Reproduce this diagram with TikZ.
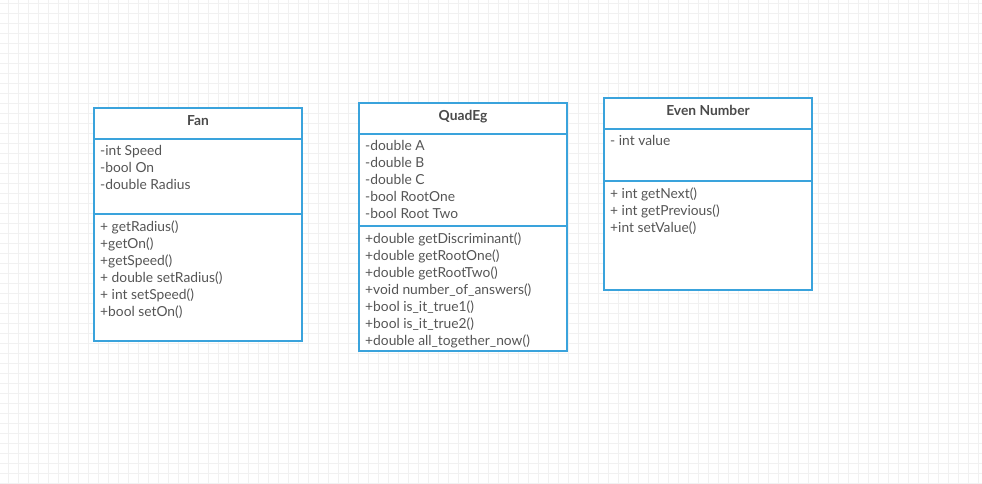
\documentclass[tikz,border=0pt]{standalone}
\usepackage{fontspec}
\setmainfont{Lato}
\usetikzlibrary{positioning}

\definecolor{umlblue}{HTML}{3AA3DC}
\definecolor{umltext}{HTML}{555555}
\definecolor{umltitle}{HTML}{4A4A4A}
\definecolor{gridgray}{HTML}{F1F1F1}

\begin{document}
\begin{tikzpicture}[x=1pt, y=-1pt,
    gridline/.style={gridgray, line width=0.7pt},
    classbox/.style={draw=umlblue, line width=2pt, fill=white, minimum width=208pt, inner sep=0pt, outer sep=0pt},
    classname/.style={classbox, minimum height=31pt, text=umltitle, text height=10pt, text depth=7pt, font=\bfseries\fontsize{13.8}{15}\selectfont},
    members/.style={anchor=north west, align=left, inner sep=0pt, text=umltext, font=\fontsize{13.8}{17}\selectfont}]

    % Canvas and background grid
    \useasboundingbox (0,0) rectangle (982,483);
    \fill[white] (0,0) rectangle (982,483);
    \foreach \x in {8,18,...,978}
        \draw[gridline] (\x,0) -- (\x,483);
    \foreach \y in {3,13,...,483}
        \draw[gridline] (0,\y) -- (982,\y);

    % Class Fan
    \node[classname] (fan) at (198,123.5) {Fan};
    \node[classbox, minimum height=75pt, below=0pt of fan] (fanattr) {};
    \node[classbox, minimum height=127pt, below=0pt of fanattr] (fanops) {};
    \node[members] (fanattrtext) at ([shift={(6,6.5)}]fanattr.north west)
        {-int Speed\\-bool On\\-double Radius};
    \node[members] (fanopstext) at ([shift={(6,6.5)}]fanops.north west)
        {+ getRadius()\\+getOn()\\+getSpeed()\\+ double setRadius()\\+ int setSpeed()\\+bool setOn()};

    % Class QuadEg
    \node[classname] (quad) at (463,118.5) {QuadEg};
    \node[classbox, minimum height=92pt, below=0pt of quad] (quadattr) {};
    \node[classbox, minimum height=125pt, below=0pt of quadattr] (quadops) {};
    \node[members] (quadattrtext) at ([shift={(6,6.5)}]quadattr.north west)
        {-double A\\-double B\\-double C\\-bool RootOne\\-bool Root Two};
    \node[members] (quadopstext) at ([shift={(6,6.5)}]quadops.north west)
        {+double getDiscriminant()\\+double getRootOne()\\+double getRootTwo()\\+void number\_of\_answers()\\+bool is\_it\_true1()\\+bool is\_it\_true2()\\+double all\_together\_now()};

    % Class Even Number
    \node[classname] (even) at (708,113.5) {Even Number};
    \node[classbox, minimum height=52pt, below=0pt of even] (evenattr) {};
    \node[classbox, minimum height=109pt, below=0pt of evenattr] (evenops) {};
    \node[members] (evenattrtext) at ([shift={(6,6.5)}]evenattr.north west)
        {- int value};
    \node[members] (evenopstext) at ([shift={(6,6.5)}]evenops.north west)
        {+ int getNext()\\+ int getPrevious()\\+int setValue()};
\end{tikzpicture}
\end{document}
